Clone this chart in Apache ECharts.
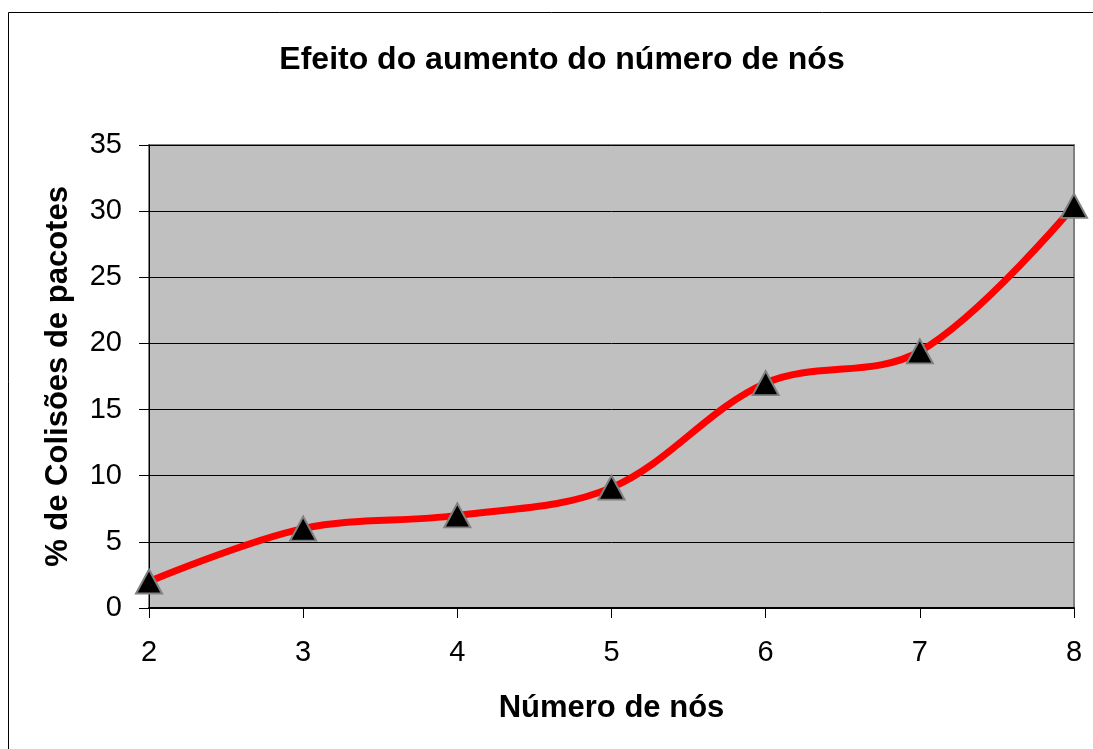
<!DOCTYPE html>
<html>
<head>
<meta charset="utf-8">
<script src="https://cdn.jsdelivr.net/npm/echarts@6/dist/echarts.min.js"></script>
<style>
  html, body { margin: 0; padding: 0; background: #fff; }
  #chart { width: 1093px; height: 749px; }
</style>
</head>
<body>
<div id="chart"></div>
<script>
// Number of nodes on the network and resulting packet-collision percentage
const nodes = [2, 3, 4, 5, 6, 7, 8];
const collisions = [2.0, 6.0, 7.0, 9.1, 17.0, 19.4, 30.4];
const yTicks = [0, 5, 10, 15, 20, 25, 30, 35];

const chart = echarts.init(document.getElementById('chart'), null, { renderer: 'canvas' });
const font = 'Arial, "Liberation Sans", sans-serif';

chart.setOption({
  backgroundColor: '#ffffff',
  animation: false,
  title: {
    text: 'Efeito do aumento do número de nós',
    left: 557, top: 39, textAlign: 'center',
    textStyle: { fontFamily: font, fontSize: 32, fontWeight: 'bold', color: '#000' }
  },
  graphic: [
    {
      type: 'rect', z: -1,
      shape: { x: 8.5, y: 12.5, width: 1100, height: 760 },
      style: { fill: 'none', stroke: '#000', lineWidth: 1 }
    }
  ],
  grid: {
    left: 149, top: 145, width: 925, height: 463,
    show: true, backgroundColor: '#c0c0c0', borderColor: '#808080', borderWidth: 2
  },
  xAxis: {
    type: 'value', min: 2, max: 8, interval: 1,
    name: 'Número de nós', nameLocation: 'middle', nameGap: 85,
    nameTextStyle: { fontFamily: font, fontSize: 31, fontWeight: 'bold', color: '#000' },
    axisLine: { show: true, onZero: false, lineStyle: { color: '#000', width: 2 } },
    axisTick: { show: true, length: 10, lineStyle: { color: '#000', width: 1 } },
    axisLabel: { fontFamily: font, fontSize: 29, color: '#000', margin: 30 },
    splitLine: { show: false }
  },
  yAxis: {
    type: 'value', min: yTicks[0], max: yTicks[yTicks.length - 1], interval: 5,
    name: '% de Colisões de pacotes', nameLocation: 'middle', nameGap: 75,
    nameTextStyle: { fontFamily: font, fontSize: 31, fontWeight: 'bold', color: '#000' },
    axisLine: { show: true, lineStyle: { color: '#000', width: 1 } },
    axisTick: { show: true, length: 10, lineStyle: { color: '#000', width: 1 } },
    axisLabel: { fontFamily: font, fontSize: 29, color: '#000', margin: 27 },
    splitLine: { show: true, lineStyle: { color: '#000', width: 1 } }
  },
  series: [{
    type: 'line',
    data: nodes.map((n, i) => [n, collisions[i]]),
    smooth: 0.35,
    lineStyle: { color: '#ff0000', width: 7 },
    symbol: 'triangle', symbolSize: [26, 24],
    itemStyle: { color: '#000', borderColor: '#808080', borderWidth: 2 },
    clip: false, z: 3
  }]
});
</script>
</body>
</html>
